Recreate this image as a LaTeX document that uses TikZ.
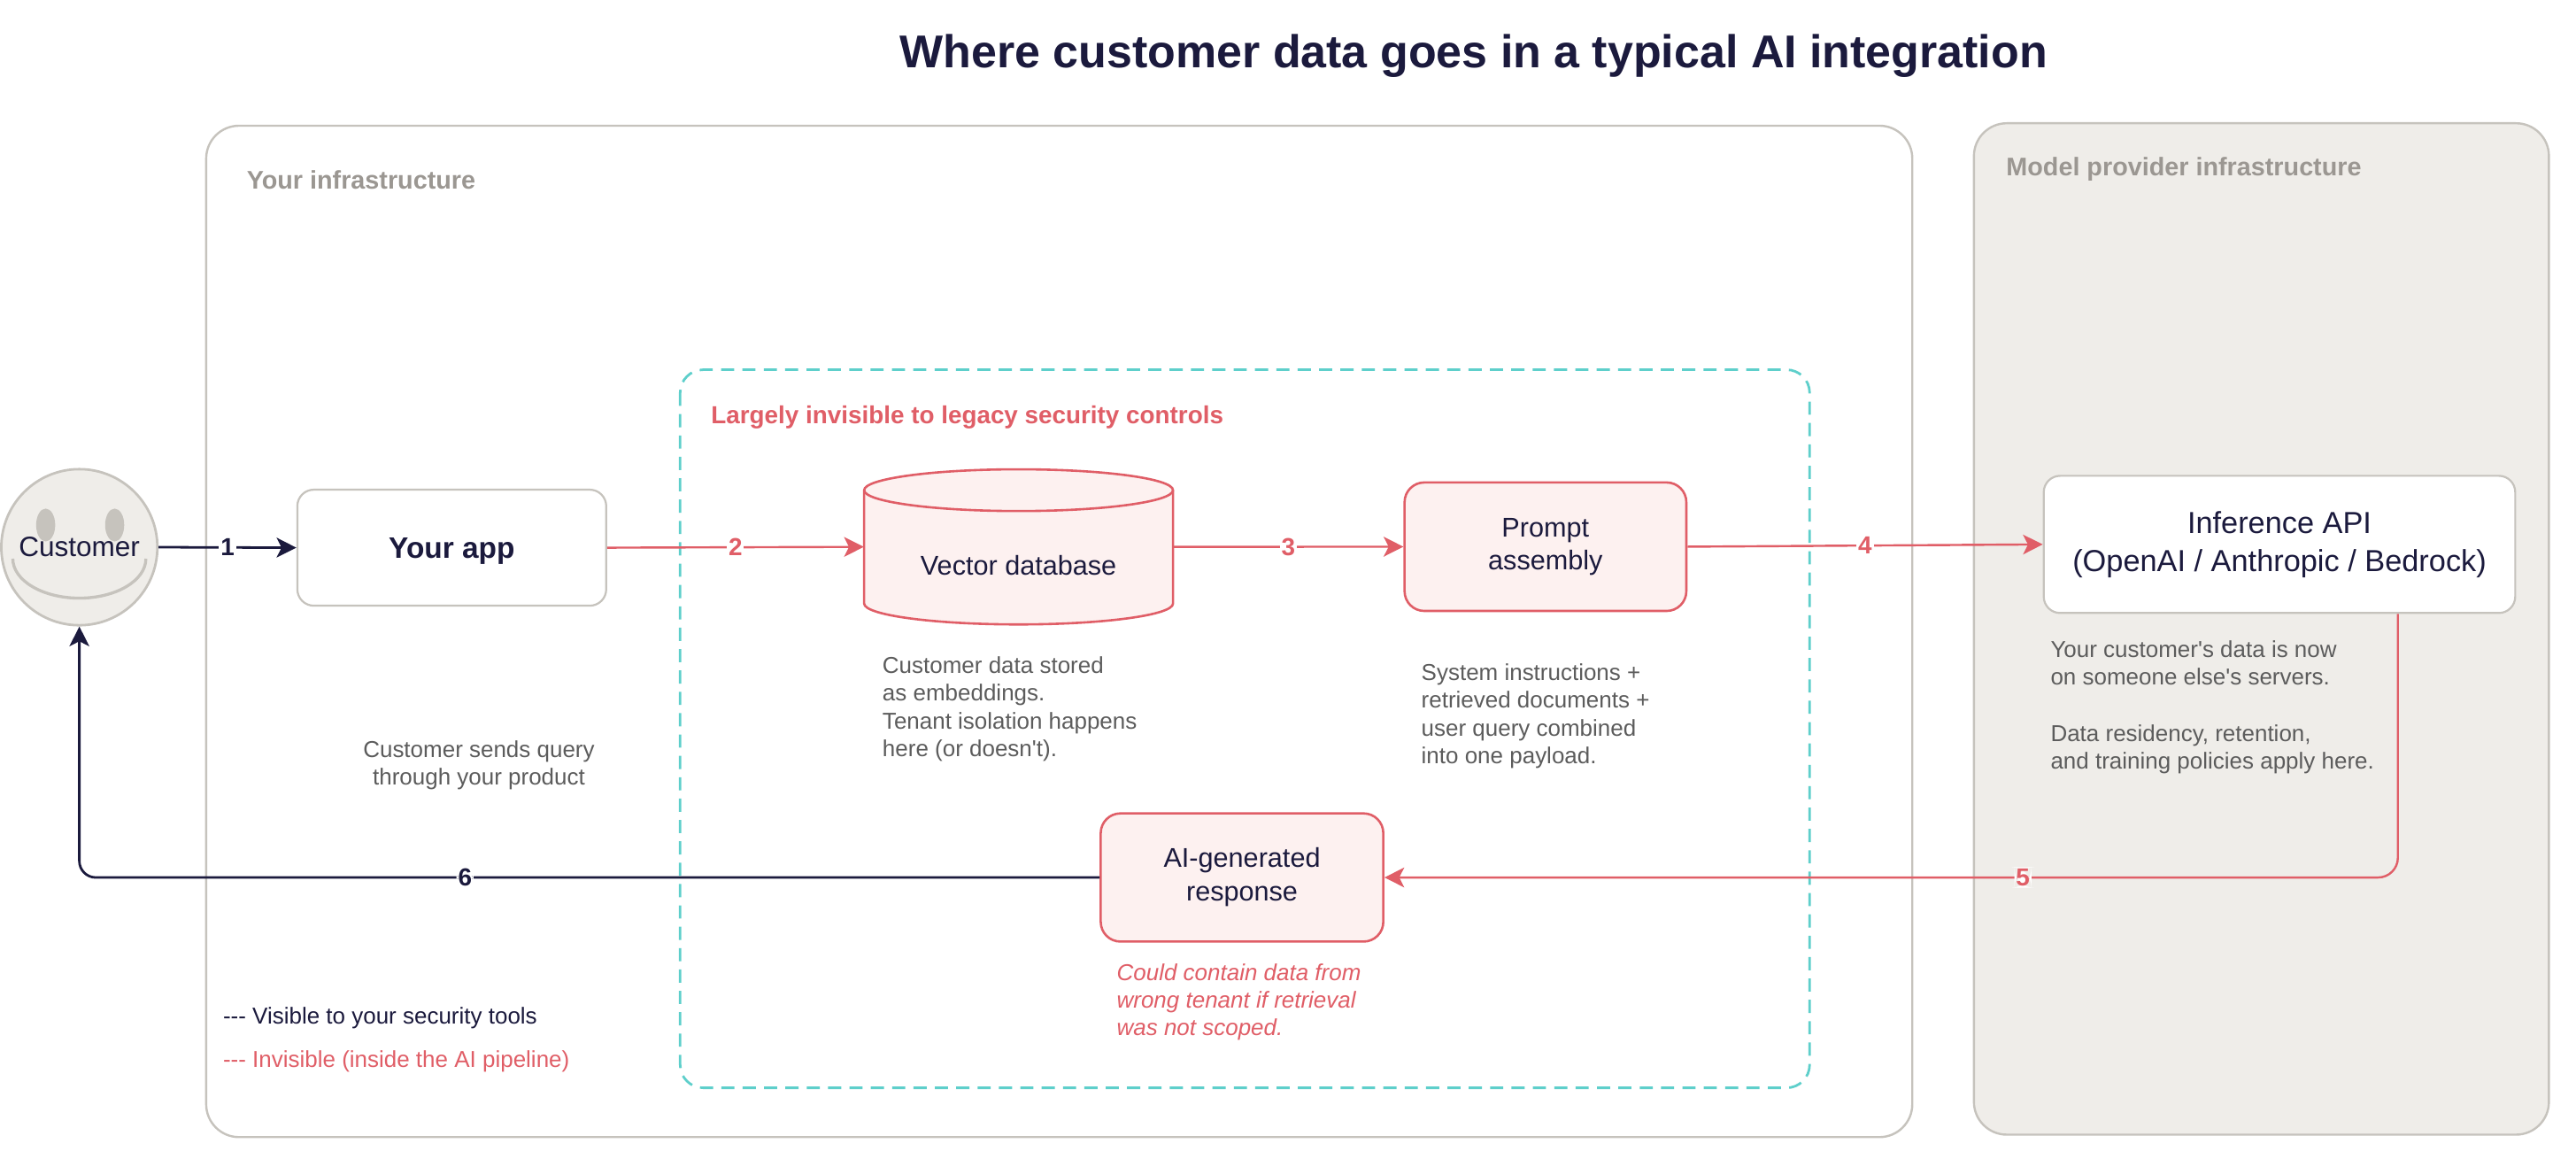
\documentclass[tikz,border=0pt]{standalone}
\usepackage{fontspec}
\setmainfont{Liberation Sans}[Ligatures=TeXOff]
\usetikzlibrary{arrows.meta,calc}
\definecolor{navy}{HTML}{1B1A3D}
\definecolor{redc}{HTML}{E05E67}
\definecolor{pinkf}{HTML}{FDF1F0}
\definecolor{tealc}{HTML}{5ECFCB}
\definecolor{grayb}{HTML}{C6C3BD}
\definecolor{grayl}{HTML}{9B9792}
\definecolor{grayt}{HTML}{5C5C5C}
\definecolor{provf}{HTML}{EFEDE9}
\begin{document}
\begin{tikzpicture}[x=1pt,y=-1pt,
  container/.style={draw=grayb, line width=1.3pt, rounded corners=20pt},
  grouplabel/.style={text=grayl, font=\bfseries\fontsize{15.5}{18}\selectfont, anchor=base west, inner sep=0pt},
  whitebox/.style={draw=grayb, line width=1.2pt, fill=white, rounded corners=10pt, align=center, text=navy, inner sep=0pt},
  pinkbox/.style={draw=redc, line width=1.4pt, fill=pinkf, rounded corners=12pt, align=center, text=navy, inner sep=0pt, font=\fontsize{16.5}{20}\selectfont},
  desc/.style={text=grayt, font=\fontsize{14}{17}\selectfont, align=left, anchor=base west, inner sep=0pt},
  navyarrow/.style={draw=navy, line width=1.5pt, -{Stealth[length=12pt,width=12pt,inset=3pt]}},
  redarrow/.style={draw=redc, line width=1.3pt, -{Stealth[length=12pt,width=12pt,inset=3pt]}},
  numlabel/.style={fill=white, inner sep=1pt, font=\bfseries\fontsize{15}{16}\selectfont}
]
\useasboundingbox (0,0) rectangle (1568,705);

% title
\node[anchor=base, text=navy, font=\bfseries\fontsize{28}{32}\selectfont, inner sep=0pt] (title) at (897,41.3) {Where customer data goes in a typical AI integration};

% containers
\draw[container, fill=white] (125.5,76.5) rectangle (1164,692);
\draw[container, fill=provf] (1201.5,75) rectangle (1551.5,690.5);
\draw[draw=tealc, line width=1.5pt, dash pattern=on 8pt off 5pt, rounded corners=14pt] (414,225) rectangle (1101.5,662);

\node[grouplabel] (lyour) at (150,115) {Your infrastructure};
\node[grouplabel] (lprov) at (1221,107) {Model provider infrastructure};
\node[text=redc, font=\bfseries\fontsize{15}{18}\selectfont, anchor=base west, inner sep=0pt] (linv) at (432.7,257.7) {Largely invisible to legacy security controls};

% customer smiley
\node[circle, draw=grayb, line width=1.5pt, fill=provf, minimum size=95pt, inner sep=0pt] (cust) at (48.3,333) {};
\fill[grayb] ($(cust.center)+(-20.5,-13.5)$) ellipse [x radius=5.8, y radius=10];
\fill[grayb] ($(cust.center)+(21.5,-13.5)$) ellipse [x radius=5.8, y radius=10];
\draw[grayb, line width=1.8pt] ($(cust.center)+(-40.5,7)$) arc [start angle=180, end angle=0, x radius=40.5, y radius=24];
\node[text=navy, font=\fontsize{17}{20}\selectfont, inner sep=0pt] (custtext) at (cust.center) {Customer};

% boxes
\node[whitebox, minimum width=188pt, minimum height=70.6pt, text depth=0pt, font=\bfseries\fontsize{18}{22}\selectfont] (app) at (275,333.3) {Your app};

\node[minimum width=188pt, minimum height=94.4pt, inner sep=0pt] (vdb) at (620,332.8) {};
\path[draw=redc, line width=1.4pt, fill=pinkf] (526,298.3) -- (526,367.3) arc [start angle=180, end angle=0, x radius=94, y radius=12.7] -- (714,298.3) arc [start angle=0, end angle=-180, x radius=94, y radius=12.7] -- cycle;
\draw[draw=redc, line width=1.4pt] (526,298.3) arc [start angle=180, end angle=0, x radius=94, y radius=12.7];
\node[text=navy, font=\fontsize{16.5}{20}\selectfont, inner sep=0pt] (vdbtext) at (620,344) {Vector database};

\node[pinkbox, minimum width=171.5pt, minimum height=78.2pt] (prompt) at (940.7,332.7) {Prompt\\assembly};

\node[whitebox, minimum width=287pt, minimum height=83.5pt, font=\fontsize{18.5}{23.4}\selectfont] (inf) at (1387.5,331.3) {Inference API\\(OpenAI / Anthropic / Bedrock)};

\node[pinkbox, minimum width=172pt, minimum height=78pt, font=\fontsize{16.5}{20.5}\selectfont] (air) at (756,534) {AI-generated\\response};

% descriptions (base anchor = baseline of last line)
\node[desc, align=center, anchor=base] (dapp) at (291.5,477.7) {Customer sends query\\through your product};
\node[desc] (dvdb) at (537,460.6) {Customer data stored\\as embeddings.\\Tenant isolation happens\\here (or doesn't).};
\node[desc] (dprompt) at (865,465) {System instructions +\\retrieved documents +\\user query combined\\into one payload.};
\node[desc] (dinf) at (1248,468) {Your customer's data is now\\on someone else's servers.\\[17pt]Data residency, retention,\\and training policies apply here.};
\node[desc, text=redc, font=\itshape\fontsize{14}{16.6}\selectfont] (dair) at (679.6,630) {Could contain data from\\wrong tenant if retrieval\\was not scoped.};

% legend
\node[desc, text=navy] (leg1) at (135.6,623.2) {--- Visible to your security tools};
\node[desc, text=redc] (leg2) at (135.6,649.8) {--- Invisible (inside the AI pipeline)};

% connectors
\coordinate (p5) at ($(inf.south west)!0.75!(inf.south east)$);
\draw[navyarrow] (cust.east) -- node[numlabel, text=navy] {1} (app.west);
\draw[redarrow] (app.east) -- node[numlabel, text=redc] {2} (vdb.west);
\draw[redarrow] (vdb.east) -- node[numlabel, text=redc] {3} (prompt.west);
\draw[redarrow] (prompt.east) -- node[numlabel, text=redc] {4} (inf.west);
\draw[redarrow, rounded corners=12pt] (p5) |- node[numlabel, text=redc, pos=0.685] {5} (air.east);
\draw[navyarrow, rounded corners=10pt] (air.west) -| node[numlabel, text=navy, pos=0.311] {6} (cust.south);
\end{tikzpicture}
\end{document}
